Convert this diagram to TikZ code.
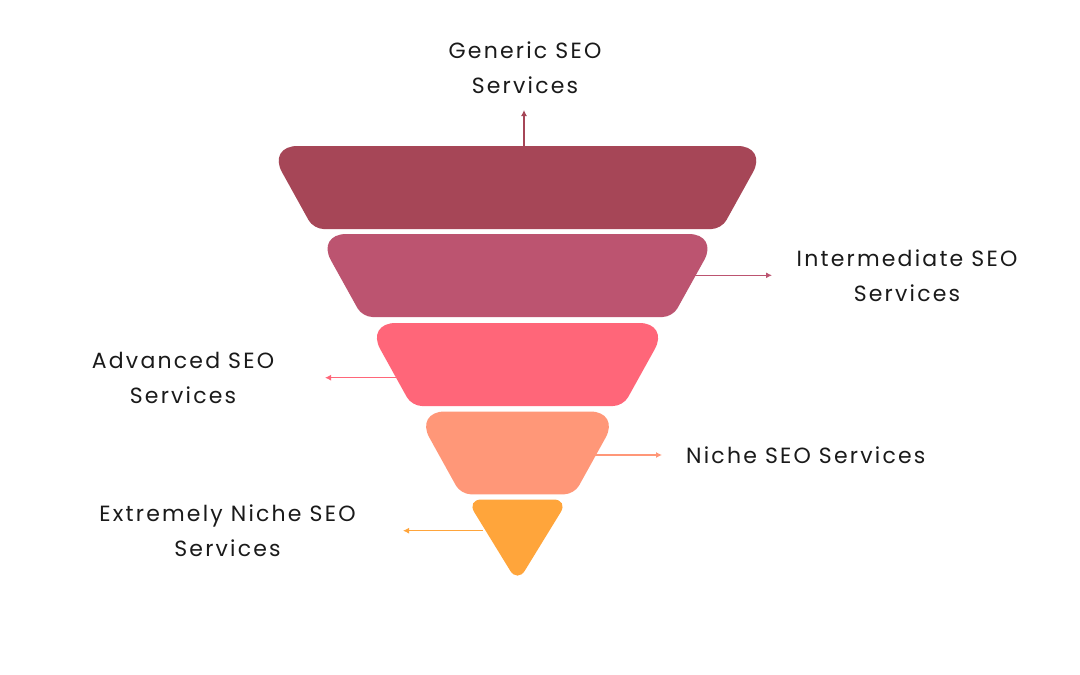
\documentclass[tikz,border=0pt]{standalone}
\usepackage{fontspec}
\setmainfont[LetterSpace=10]{Poppins}
\usetikzlibrary{arrows.meta}
\definecolor{cA}{HTML}{A64657}
\definecolor{cB}{HTML}{BC5470}
\definecolor{cC}{HTML}{FF6679}
\definecolor{cD}{HTML}{FF9778}
\definecolor{cE}{HTML}{FFA53B}
\definecolor{ink}{HTML}{1A1A1A}
\begin{document}
\begin{tikzpicture}[x=1pt,y=-1pt,
  lbl/.style={font=\fontsize{22}{35}\selectfont, text=ink, align=center, inner sep=0pt},
  conn/.style={line width=1.4pt, -{Latex[length=6pt,width=6pt]}}]
\useasboundingbox (0,0) rectangle (1080,675);
\fill[white] (0,0) rectangle (1080,675);
% bands
\fill[cA] (517.5,146) [rounded corners=30pt] -- (267.5,146) [rounded corners=10pt] -- (313.5,229) -- (721.5,229) [rounded corners=30pt] -- (767.5,146) -- cycle;
\fill[cB] (517.5,234) [rounded corners=30pt] -- (316.3,234) [rounded corners=10pt] -- (362.4,317) -- (672.6,317) [rounded corners=30pt] -- (718.7,234) -- cycle;
\fill[cC] (517.5,323) [rounded corners=30pt] -- (365.7,323) [rounded corners=10pt] -- (411.8,406) -- (623.2,406) [rounded corners=30pt] -- (669.3,323) -- cycle;
\fill[cD] (517.5,411.5) [rounded corners=30pt] -- (414.9,411.5) [rounded corners=10pt] -- (460.8,494.3) -- (574.2,494.3) [rounded corners=30pt] -- (620.1,411.5) -- cycle;
\fill[cE] (517.5,499.5) [rounded corners=15pt] -- (466.5,499.5) [rounded corners=14pt] -- (517.5,582.6) [rounded corners=15pt] -- (568.5,499.5) -- cycle;
% connector anchors
\coordinate (s1) at (524,146);   \coordinate (e1) at (524,110);
\coordinate (s2) at (694,275.3); \coordinate (e2) at (772,275.3);
\coordinate (s3) at (397,377.7); \coordinate (e3) at (325,377.7);
\coordinate (s4) at (594,455);   \coordinate (e4) at (662,455);
\coordinate (s5) at (483,530.7); \coordinate (e5) at (403,530.7);
% labels
\node[lbl] (t1) at (525,68) {Generic SEO\\Services};
\node[lbl] (t2) at (907,276) {Intermediate SEO\\Services};
\node[lbl] (t3) at (183,377.5) {Advanced SEO\\Services};
\node[lbl, anchor=west] (t4) at (686,455) {Niche SEO Services};
\node[lbl] (t5) at (227.5,530.5) {Extremely Niche SEO\\Services};
% connectors
\draw[conn, cA] (s1) -- (e1);
\draw[conn, cB] (s2) -- (e2);
\draw[conn, cC] (s3) -- (e3);
\draw[conn, cD] (s4) -- (e4);
\draw[conn, cE] (s5) -- (e5);
\end{tikzpicture}
\end{document}
